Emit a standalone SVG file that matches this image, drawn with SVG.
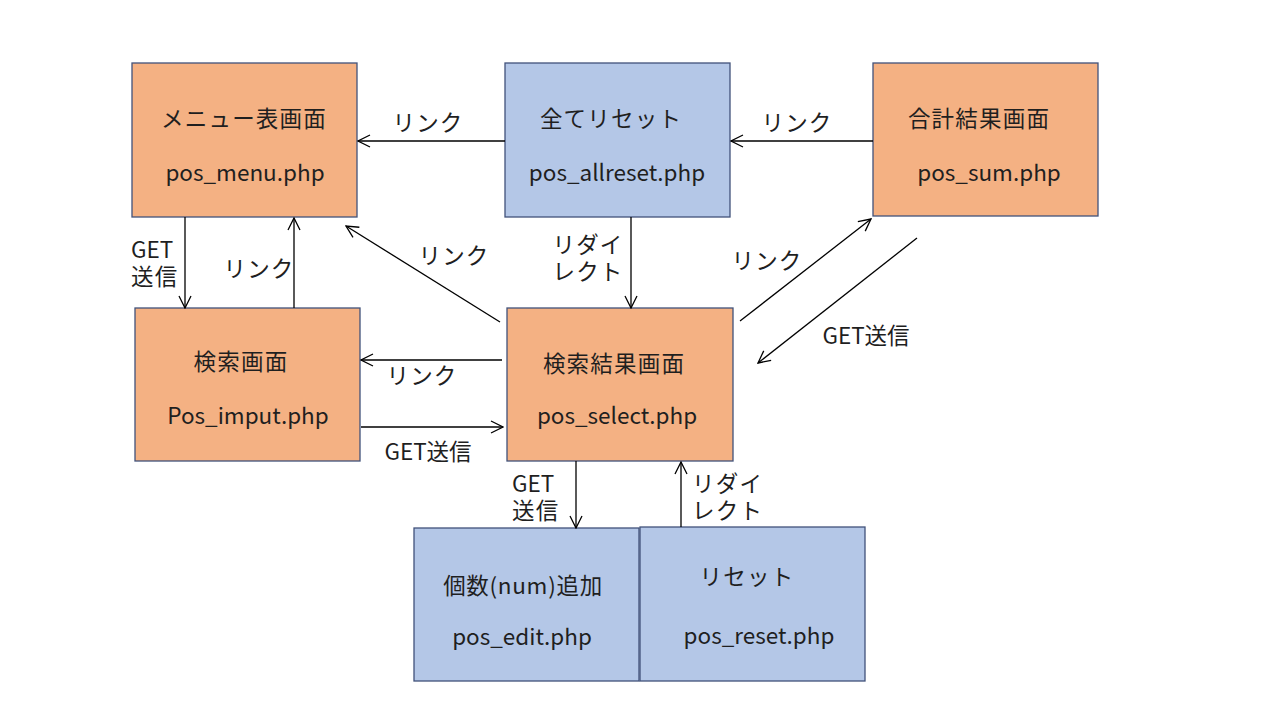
<svg xmlns="http://www.w3.org/2000/svg" width="1280" height="720" viewBox="0 0 1280 720">
<style>
.o{fill:#F4B183;stroke:#41527A;stroke-width:1.3}
.b{fill:#B4C7E7;stroke:#41527A;stroke-width:1.3}
text{font-family:"Noto Sans CJK JP","Liberation Sans",sans-serif;font-size:22.5px;fill:#1f1f1f;text-anchor:middle}
.j{letter-spacing:1.2px}
.l{text-anchor:start}
#conn line{stroke:#000;stroke-width:1.3;marker-end:url(#ah)}
</style>
<defs>
<marker id="ah" viewBox="0 0 14 14" refX="13" refY="7" markerWidth="14" markerHeight="14" markerUnits="userSpaceOnUse" orient="auto">
<path d="M1,1 L13,7 L1,13" fill="none" stroke="#000" stroke-width="1.3"/>
</marker>
</defs>
<rect width="1280" height="720" fill="#fff"/>
<g id="menu"><rect class="o" x="132" y="63" width="225" height="154"/><text class="j" x="244" y="127">メニュー表画面</text><text x="245" y="181">pos_menu.php</text></g>
<g id="allreset"><rect class="b" x="505" y="63" width="225" height="154"/><text class="j" x="611" y="127">全てリセット</text><text x="617" y="181">pos_allreset.php</text></g>
<g id="sum"><rect class="o" x="873" y="63" width="225" height="153"/><text class="j" x="979" y="127">合計結果画面</text><text x="989" y="181">pos_sum.php</text></g>
<g id="input"><rect class="o" x="135" y="308" width="225" height="153"/><text class="j" x="241" y="370">検索画面</text><text x="248" y="424">Pos_imput.php</text></g>
<g id="select"><rect class="o" x="507" y="308" width="226" height="153"/><text class="j" x="614" y="372">検索結果画面</text><text x="617" y="424">pos_select.php</text></g>
<g id="edit"><rect class="b" x="414" y="528" width="225" height="153"/><text x="523" y="594" style="letter-spacing:0.7px">個数(num)追加</text><text x="522" y="645">pos_edit.php</text></g>
<g id="reset"><rect class="b" x="640" y="527" width="225" height="154"/><text class="j" x="747" y="585">リセット</text><text x="759" y="644">pos_reset.php</text></g>
<g id="conn">
<line x1="505" y1="141" x2="358" y2="141"/>
<line x1="873" y1="141" x2="731" y2="141"/>
<line x1="185" y1="217" x2="185" y2="308"/>
<line x1="294" y1="308" x2="294" y2="218"/>
<line x1="500" y1="322" x2="346" y2="226"/>
<line x1="631" y1="217" x2="631" y2="308"/>
<line x1="740" y1="321" x2="871" y2="219"/>
<line x1="917" y1="238" x2="758" y2="363"/>
<line x1="502" y1="360" x2="361" y2="360"/>
<line x1="361" y1="427" x2="503" y2="427"/>
<line x1="576" y1="461" x2="576" y2="528"/>
<line x1="681" y1="527" x2="681" y2="462"/>
</g>
<g id="labels">
<text class="j" x="428" y="131">リンク</text>
<text class="j" x="797" y="131">リンク</text>
<text class="l" x="131" y="258">GET<tspan class="j" x="131" dy="27">送信</tspan></text>
<text class="j" x="259" y="277">リンク</text>
<text class="j" x="454" y="264">リンク</text>
<text class="j" x="588" y="253">リダイ<tspan x="588" dy="27">レクト</tspan></text>
<text class="j" x="767" y="269">リンク</text>
<text x="866" y="344">GET送信</text>
<text class="j" x="422" y="384">リンク</text>
<text x="428" y="460">GET送信</text>
<text class="l" x="512" y="492">GET<tspan class="j" x="512" dy="27">送信</tspan></text>
<text class="l j" x="692" y="492">リダイ<tspan x="692" dy="27">レクト</tspan></text>
</g>
</svg>
